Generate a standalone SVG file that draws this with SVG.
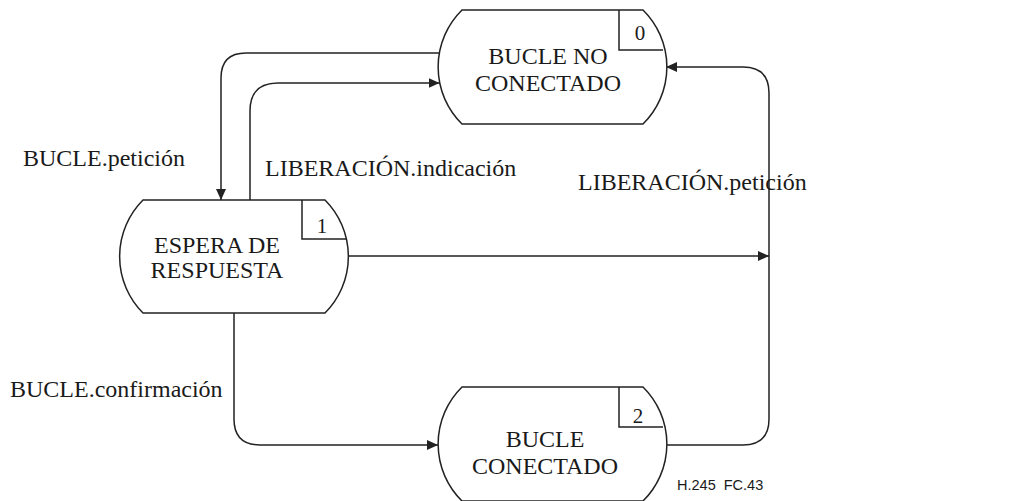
<svg xmlns="http://www.w3.org/2000/svg" width="1015" height="501" viewBox="0 0 1015 501">
<style>
.shape{fill:#fff;stroke:#222;stroke-width:1.5}
.box{fill:none;stroke:#222;stroke-width:1.5}
.conn{fill:none;stroke:#222;stroke-width:1.5}
.t{font-family:"Liberation Serif","Times New Roman",serif;font-size:24px;fill:#1a1a1a}
.c{text-anchor:middle}
.n{font-family:"Liberation Serif","Times New Roman",serif;font-size:21px;fill:#1a1a1a;text-anchor:middle}
.s{font-family:"Liberation Sans",Arial,sans-serif;font-size:14.5px;fill:#1a1a1a;white-space:pre}
</style>
<defs>
<marker id="arr" markerUnits="userSpaceOnUse" markerWidth="12" markerHeight="10" refX="11" refY="5" orient="auto">
<path d="M0,0 L11,5 L0,10 z" fill="#222"/>
</marker>
</defs>
<g id="connectors">
<path class="conn" d="M439,53 H246 Q221,53 221,78 V200" marker-end="url(#arr)"/>
<path class="conn" d="M250,200 V111 Q250,83 278,83 H439.5" marker-end="url(#arr)"/>
<path class="conn" d="M348,256 H769" marker-end="url(#arr)"/>
<path class="conn" d="M234,313 V419 Q234,445 260,445 H438" marker-end="url(#arr)"/>
<path class="conn" d="M667,445 H743 Q769,445 769,419 V93 Q769,67 743,67 H666" marker-end="url(#arr)"/>
</g>
<g id="node0">
<path class="shape" d="M462,10 H643 A80,80 0 0 1 643,124 H462 A80,80 0 0 1 462,10 Z"/>
<path class="box" d="M619,10 V50 H663"/>
<text class="n" x="640" y="40">0</text>
<text class="t c" x="548" y="64">BUCLE NO</text>
<text class="t c" x="548" y="91">CONECTADO</text>
</g>
<g id="node1">
<path class="shape" d="M143,200 H325 A80,80 0 0 1 325,313 H143 A80,80 0 0 1 143,200 Z"/>
<path class="box" d="M302,200 V239 H347"/>
<text class="n" x="322" y="233">1</text>
<text class="t c" x="217" y="253">ESPERA DE</text>
<text class="t c" x="217" y="278">RESPUESTA</text>
</g>
<g id="node2">
<path class="shape" d="M462,387 H643 A80,80 0 0 1 643,501 H462 A80,80 0 0 1 462,387 Z"/>
<path class="box" d="M619,387 V427 H663"/>
<text class="n" x="638" y="423">2</text>
<text class="t c" x="545" y="447">BUCLE</text>
<text class="t c" x="545" y="474">CONECTADO</text>
</g>
<g id="labels">
<text class="t" x="23" y="166">BUCLE.petición</text>
<text class="t" x="265" y="176">LIBERACIÓN.indicación</text>
<text class="t" x="578" y="190">LIBERACIÓN.petición</text>
<text class="t" x="10" y="397">BUCLE.confirmación</text>
<text class="s" x="677" y="490">H.245  FC.43</text>
</g>
</svg>
